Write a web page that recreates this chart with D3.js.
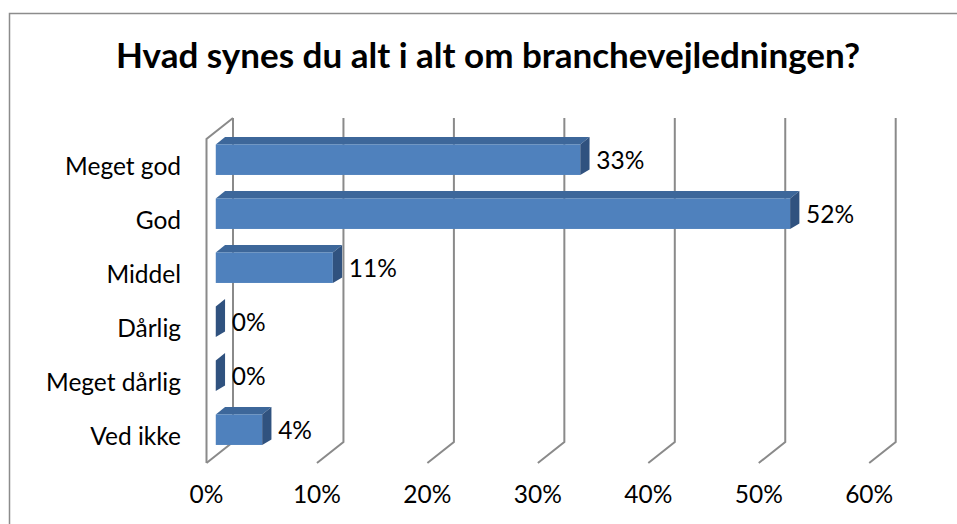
<!DOCTYPE html>
<html>
<head>
<meta charset="utf-8">
<script src="https://cdn.jsdelivr.net/npm/d3@7"></script>
<style>
  html, body { margin: 0; padding: 0; background: #fff; }
  svg { display: block; font-family: Lato, "Open Sans", sans-serif; }
</style>
</head>
<body>
<div id="chart"></div>
<script>
// Survey answers, share of respondents
const categories = ['Meget god', 'God', 'Middel', 'Dårlig', 'Meget dårlig', 'Ved ikke'];
const shares = [0.33, 0.52, 0.106, 0, 0, 0.042];
const tickValues = [0, 0.1, 0.2, 0.3, 0.4, 0.5, 0.6];
const title = 'Hvad synes du alt i alt om branchevejledningen?';

const W = 957, H = 524;
const fmt = d3.format('.0%');

// oblique 3D: back wall plane, floor depth goes down-left
const wallTop = 118, wallBottom = 442;
const depthX = -26.5, depthY = 21;
const barFront = 0.65, barBack = 0.3;   // bar depth positions (0 = back wall, 1 = front)

const xBack = d3.scaleLinear().domain([0, 0.6]).range([233, 895.7]);
const proj = (v, y, depth) => [xBack(v) + depth * depthX, y + depth * depthY];

// y band for bar front faces (screen coords)
const y = d3.scaleBand()
  .domain(categories)
  .range([132.7, 456.7])
  .paddingInner(0.435)
  .paddingOuter(0.2175);

const svg = d3.select('#chart').append('svg')
  .attr('width', W)
  .attr('height', H);

// chart area border
svg.append('rect')
  .attr('x', 9.5).attr('y', 13.5)
  .attr('width', 1000).attr('height', 600)
  .attr('fill', 'none')
  .attr('stroke', '#8c8c8c')
  .attr('stroke-width', 1.5);

svg.append('text')
  .attr('x', 488).attr('y', 68)
  .attr('text-anchor', 'middle')
  .attr('font-weight', 'bold')
  .attr('font-size', 35)
  .attr('fill', '#000')
  .text(title);

// gridlines: vertical on back wall, slanted on floor
const grid = svg.append('g')
  .attr('fill', 'none')
  .attr('stroke', '#8a8a8a')
  .attr('stroke-width', 2);

grid.selectAll('path.tick')
  .data(tickValues)
  .join('path')
  .attr('class', 'tick')
  .attr('d', (v) => {
    const p0 = proj(v, wallTop, 0), p1 = proj(v, wallBottom, 0), p2 = proj(v, wallBottom, 1);
    return `M${p0}L${p1}L${p2}`;
  });

// left side wall
{
  const a = proj(0, wallTop, 0), b = proj(0, wallTop, 1), c = proj(0, wallBottom, 1);
  grid.append('path').attr('d', `M${a}L${b}L${c}`);
}

// axis labels under the floor front edge
svg.append('g')
  .selectAll('text')
  .data(tickValues)
  .join('text')
  .attr('x', (v) => proj(v, wallBottom, 1)[0])
  .attr('y', 503)
  .attr('text-anchor', 'middle')
  .attr('font-size', 24.5)
  .attr('fill', '#000')
  .text(fmt);

// bars
const bars = svg.append('g')
  .selectAll('g')
  .data(categories.map((c, i) => ({ cat: c, v: shares[i] })))
  .join('g');

const frontX = (v) => proj(v, 0, barFront)[0];
const dx = (barBack - barFront) * depthX;   // ~9
const dy = (barBack - barFront) * depthY;   // ~-7

bars.filter((d) => d.v > 0).append('path')
  .attr('fill', '#3d679a')
  .attr('d', (d) => {
    const x0 = frontX(0), x1 = frontX(d.v), yt = y(d.cat);
    return `M${x0},${yt}L${x0 + dx},${yt + dy}L${x1 + dx},${yt + dy}L${x1},${yt}Z`;
  });

bars.filter((d) => d.v > 0).append('rect')
  .attr('fill', '#4f81bd')
  .attr('x', frontX(0))
  .attr('y', (d) => y(d.cat))
  .attr('width', (d) => frontX(d.v) - frontX(0))
  .attr('height', y.bandwidth());

bars.append('path')
  .attr('fill', '#30527f')
  .attr('d', (d) => {
    const x1 = frontX(d.v), yt = y(d.cat), yb = yt + y.bandwidth();
    return `M${x1},${yt}L${x1 + dx},${yt + dy}L${x1 + dx},${yb + dy + 2}L${x1},${yb}Z`;
  });

// value labels
bars.append('text')
  .attr('x', (d) => frontX(d.v) + 16)
  .attr('y', (d) => y(d.cat) + y.bandwidth() / 2 + 9.5)
  .attr('font-size', 24.5)
  .attr('fill', '#000')
  .text((d) => fmt(d.v));

// category labels
bars.append('text')
  .attr('x', 181)
  .attr('y', (d) => y(d.cat) + y.bandwidth() / 2 + 15.5)
  .attr('text-anchor', 'end')
  .attr('font-size', 24.5)
  .attr('fill', '#000')
  .text((d) => d.cat);
</script>
</body>
</html>
